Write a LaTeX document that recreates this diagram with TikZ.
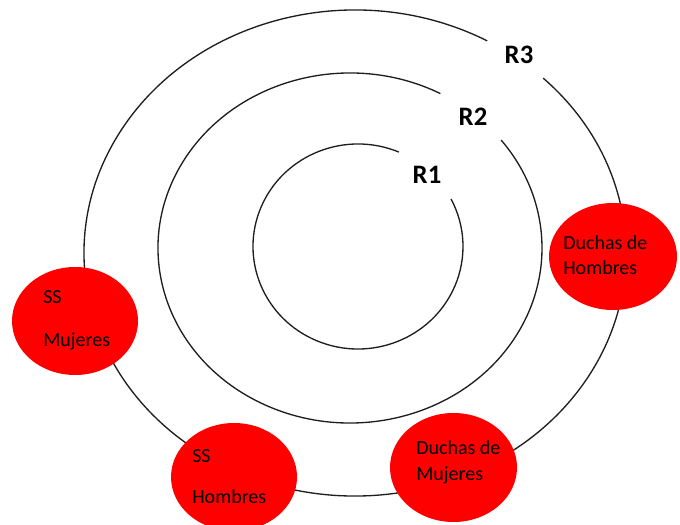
\documentclass[tikz,border=0pt]{standalone}
\usepackage{fontspec}
\setmainfont{Carlito}
\usepackage{tikz}
\usetikzlibrary{shapes.geometric}
\definecolor{spotred}{RGB}{255, 0, 0}
\definecolor{ringline}{RGB}{30, 30, 30}

\tikzset{
	ring/.style={ringline, line width=1pt},
	spot/.style={ellipse, fill=spotred, draw=none, inner sep=0pt, outer sep=0pt},
	tag/.style={font=\fontsize{20}{24}\selectfont\bfseries, inner sep=0pt, anchor=center},
	lbl/.style={font=\fontsize{15}{18}\selectfont, inner sep=0pt, anchor=base west}
}

\begin{document}
\begin{tikzpicture}[x=0.75pt, y=0.75pt]
			\clip (0, 0) rectangle (680, 524);
			
			\coordinate (c1) at (358, 277.5);
			\coordinate (c2) at (350, 276);
			\coordinate (c3) at (355, 271);
			
			% rings, open where the labels sit
			\draw[ring] ([shift={(67.1:105 and 102.5)}]c1) arc[start angle=67.1, end angle=387.6, x radius=105, y radius=102.5];
			\draw[ring] ([shift={(61.9:192 and 175)}]c2) arc[start angle=61.9, end angle=398.1, x radius=192, y radius=175];
			\draw[ring] ([shift={(60.8:271 and 243)}]c3) arc[start angle=60.8, end angle=406.0, x radius=271, y radius=243];
			
			\node[tag] (r1) at (427, 349) {R1};
			\node[tag] (r2) at (473, 407) {R2};
			\node[tag] (r3) at (519, 469) {R3};
			
			\node[spot, minimum width=96pt, minimum height=80.25pt] (dh) at (613, 267.5) {};
			\node[spot, minimum width=94.5pt, minimum height=81pt] (sm) at (75, 203) {};
			\node[spot, minimum width=94.5pt, minimum height=81pt] (sh) at (234, 47) {};
			\node[spot, minimum width=95.25pt, minimum height=81.75pt] (dm) at (453.5, 56.5) {};
			
			\node[lbl] (dhA) at ([shift={(-50, 6.5)}]dh.center) {Duchas de};
			\node[lbl] (dhB) at ([shift={(-50, -18.5)}]dh.center) {Hombres};
			\node[lbl] (smA) at ([shift={(-32, 17)}]sm.center) {SS};
			\node[lbl] (smB) at ([shift={(-32, -26)}]sm.center) {Mujeres};
			\node[lbl] (shA) at ([shift={(-42, 15)}]sh.center) {SS};
			\node[lbl] (shB) at ([shift={(-42, -26)}]sh.center) {Hombres};
			\node[lbl] (dmA) at ([shift={(-37.5, 13.5)}]dm.center) {Duchas de};
			\node[lbl] (dmB) at ([shift={(-37.5, -12.5)}]dm.center) {Mujeres};
		\end{tikzpicture}
\end{document}
